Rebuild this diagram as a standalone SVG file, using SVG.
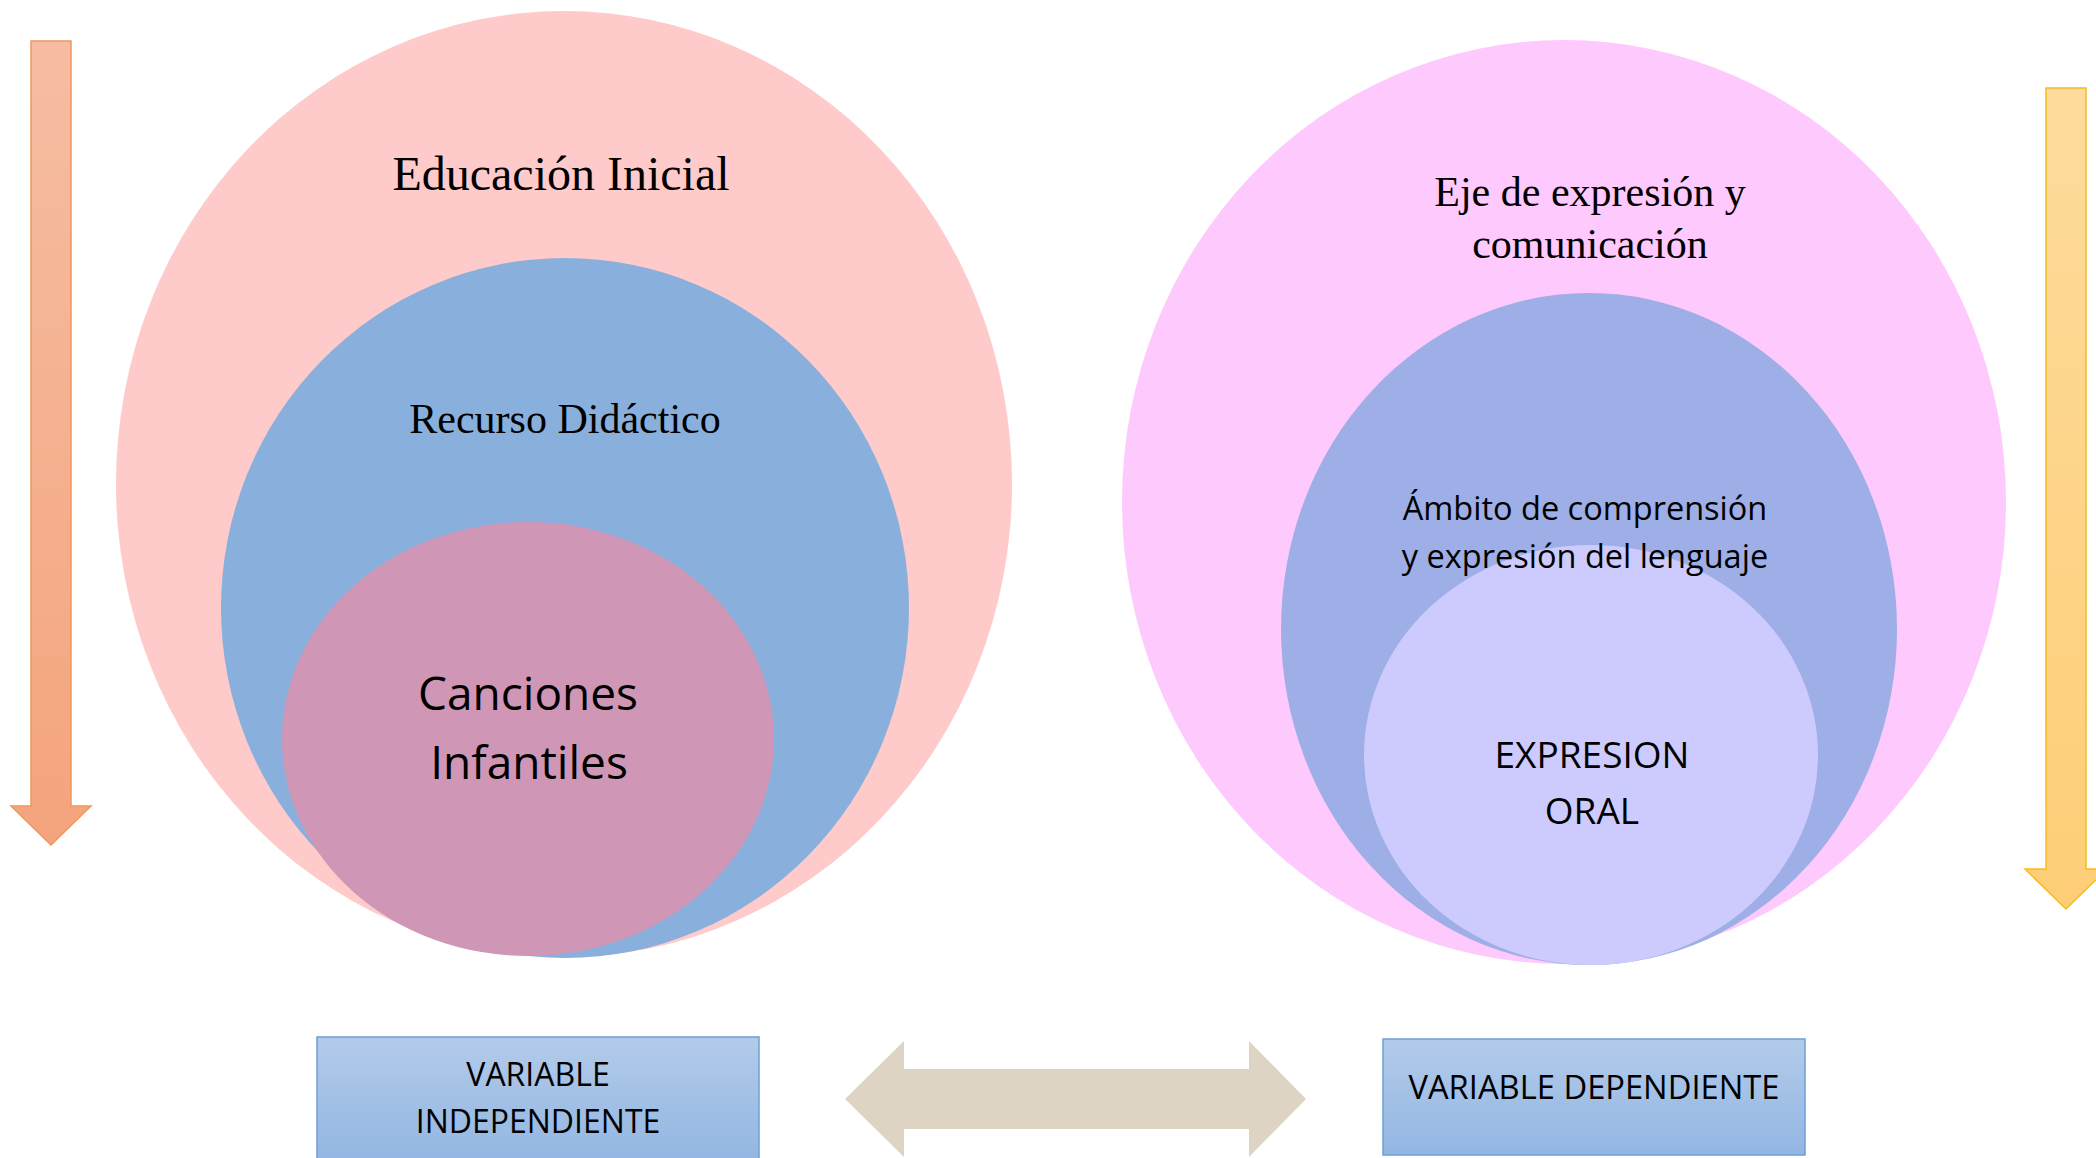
<svg xmlns="http://www.w3.org/2000/svg" width="2096" height="1158" viewBox="0 0 2096 1158">
<defs>
<linearGradient id="gOrange" x1="0" y1="0" x2="0" y2="1">
<stop offset="0" stop-color="#f6bda2"/><stop offset="1" stop-color="#f4a47d"/>
</linearGradient>
<linearGradient id="gYellow" x1="0" y1="0" x2="0" y2="1">
<stop offset="0" stop-color="#fedb9c"/><stop offset="1" stop-color="#fdce76"/>
</linearGradient>
<linearGradient id="gBox" x1="0" y1="0" x2="0" y2="1">
<stop offset="0" stop-color="#b2cbea"/><stop offset="1" stop-color="#93b6e2"/>
</linearGradient>
<style>
.serif{font-family:"Liberation Serif","Times New Roman",serif;fill:#000;text-anchor:middle}
.sans{font-family:"Open Sans","Noto Sans","Liberation Sans",sans-serif;fill:#000;text-anchor:middle}
.box{fill:url(#gBox);stroke:#6f9fd6;stroke-width:1.5}
</style>
</defs>

<g id="arrow-left">
<path d="M31,41 H71 V806 H91 L51,845 L11,806 H31 Z" fill="url(#gOrange)" stroke="#f0975d" stroke-width="1.5"/>
</g>
<g id="arrow-right">
<path d="M2046,88 H2086 V869 H2107 L2066,909 L2025,869 H2046 Z" fill="url(#gYellow)" stroke="#f6bb1e" stroke-width="1.5"/>
</g>

<g id="educacion-inicial">
<ellipse cx="564" cy="484" rx="448" ry="473" fill="#fecaca"/>
<text class="serif" x="561" y="190" font-size="48">Educación Inicial</text>
</g>
<g id="recurso-didactico">
<ellipse cx="565" cy="608" rx="344" ry="350" fill="#89b0dc"/>
<text class="serif" x="565" y="433" font-size="42">Recurso Didáctico</text>
</g>
<g id="canciones-infantiles">
<ellipse cx="528" cy="739" rx="246" ry="217" fill="#cf96b6"/>
<text class="sans" x="528" y="710" font-size="46">Canciones</text>
<text class="sans" x="529" y="779" font-size="46">Infantiles</text>
</g>

<g id="eje-expresion">
<ellipse cx="1564" cy="502" rx="442" ry="462" fill="#fec9fd"/>
<text class="serif" x="1590" y="206" font-size="42">Eje de expresión y</text>
<text class="serif" x="1590" y="258" font-size="42">comunicación</text>
</g>
<g id="ambito">
<ellipse cx="1589" cy="629" rx="308" ry="336" fill="#9eaee6"/>
</g>
<g id="expresion-oral">
<ellipse cx="1591" cy="755" rx="227" ry="210" fill="#cdcbfd"/>
<text class="sans" x="1592" y="768" font-size="37">EXPRESION</text>
<text class="sans" x="1592" y="824" font-size="37">ORAL</text>
</g>
<g id="ambito-label">
<text class="sans" x="1585" y="520" font-size="32.5">Ámbito de comprensión</text>
<text class="sans" x="1585" y="568" font-size="32.5">y expresión del lenguaje</text>
</g>

<g id="connectors">
<path d="M845,1099 L904,1041 V1069 H1249 V1041 L1306,1099 L1249,1157 V1129 H904 V1157 Z" fill="#ddd4c4"/>
</g>

<g id="variable-independiente">
<rect class="box" x="317" y="1037" width="442" height="125"/>
<text class="sans" x="538" y="1086" font-size="32">VARIABLE</text>
<text class="sans" x="538" y="1133" font-size="32">INDEPENDIENTE</text>
</g>
<g id="variable-dependiente">
<rect class="box" x="1383" y="1039" width="422" height="116"/>
<text class="sans" x="1594" y="1099" font-size="32.7">VARIABLE DEPENDIENTE</text>
</g>
</svg>
